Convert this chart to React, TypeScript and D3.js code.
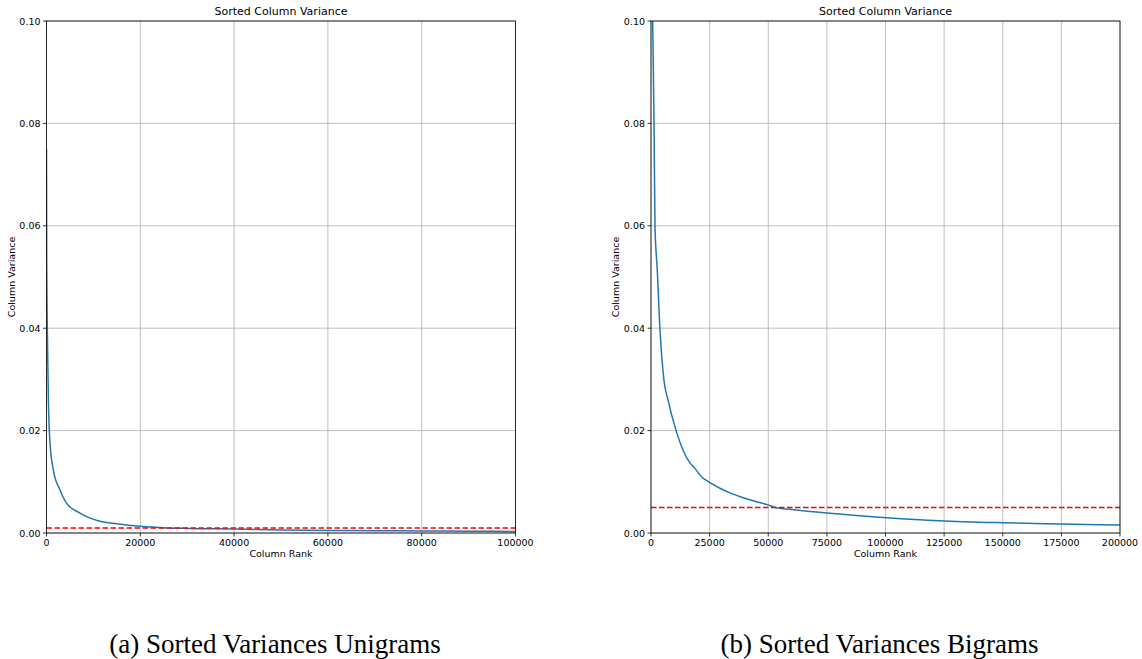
import * as d3 from "d3";

// Unigram panel: sorted column variance by rank
const uniRank = [0, 50, 170, 400, 750, 1460, 2880, 4300, 7140, 11400, 15000, 20000, 25700, 30000, 40000, 50000, 60000, 70000, 80000, 90000, 100000];
const uniVar = [0.075, 0.052, 0.04, 0.026, 0.0176, 0.0123, 0.0084, 0.0058, 0.0039, 0.0023, 0.0018, 0.0013, 0.001, 0.0009, 0.0008, 0.0006, 0.0005, 0.00045, 0.0004, 0.00035, 0.0003];
const uniThreshold = 0.001;

// Bigram panel
const biRank = [0, 700, 1300, 1700, 2300, 2500, 3800, 5500, 7250, 10700, 16600, 18000, 22000, 25000, 30000, 35000, 40000, 45000, 50000, 53000, 60000, 75000, 100500, 123000, 150000, 175000, 200000];
const biVar = [0.12, 0.1, 0.08, 0.06, 0.054, 0.0527, 0.04, 0.0299, 0.026, 0.02, 0.0137, 0.013, 0.0108, 0.0099, 0.0086, 0.0076, 0.0068, 0.0061, 0.0055, 0.005, 0.0046, 0.0039, 0.003, 0.0024, 0.002, 0.00176, 0.00156];
const biThreshold = 0.005;

const yTicks = [0, 0.02, 0.04, 0.06, 0.08, 0.1];
const uniXTicks = [0, 20000, 40000, 60000, 80000, 100000];
const biXTicks = [0, 25000, 50000, 75000, 100000, 125000, 150000, 175000, 200000];

const FONT = "DejaVu Sans, sans-serif";

interface PanelProps {
  left: number;
  rank: number[];
  variance: number[];
  threshold: number;
  xMax: number;
  xTicks: number[];
  caption: string;
}

function Panel({ left, rank, variance, threshold, xMax, xTicks, caption }: PanelProps) {
  const top = 21;
  const bottom = 533;
  const w = 469;
  const x = d3.scaleLinear().domain([0, xMax]).range([left, left + w]);
  const y = d3.scaleLinear().domain([0, 0.1]).range([bottom, top]);
  const pts: [number, number][] = rank.map((r, i) => [r, variance[i]]);
  const line = d3
    .line<[number, number]>()
    .x((d) => x(d[0]))
    .y((d) => y(d[1]))
    .curve(d3.curveMonotoneX);
  const clipId = `clip-${left}`;
  return (
    <g>
      <defs>
        <clipPath id={clipId}>
          <rect x={left} y={top} width={w} height={bottom - top} />
        </clipPath>
      </defs>
      {/* grid */}
      {xTicks.map((t) => (
        <line key={`gx${t}`} x1={x(t)} x2={x(t)} y1={top} y2={bottom} stroke="#b0b0b0" strokeWidth={0.8} />
      ))}
      {yTicks.map((t) => (
        <line key={`gy${t}`} x1={left} x2={left + w} y1={y(t)} y2={y(t)} stroke="#b0b0b0" strokeWidth={0.8} />
      ))}
      <g clipPath={`url(#${clipId})`}>
        <path d={line(pts) ?? ""} fill="none" stroke="#1f77b4" strokeWidth={1.5} />
        <line
          x1={left}
          x2={left + w}
          y1={y(threshold)}
          y2={y(threshold)}
          stroke="#ff0000"
          strokeWidth={1.5}
          strokeDasharray="5.5,2.5"
        />
      </g>
      {/* spines */}
      <rect x={left} y={top} width={w} height={bottom - top} fill="none" stroke="#000" strokeWidth={0.8} />
      {/* ticks */}
      {xTicks.map((t) => (
        <g key={`tx${t}`}>
          <line x1={x(t)} x2={x(t)} y1={bottom} y2={bottom + 3.5} stroke="#000" strokeWidth={0.8} />
          <text x={x(t)} y={bottom + 13} textAnchor="middle" fontSize={9.5} fontFamily={FONT}>
            {t}
          </text>
        </g>
      ))}
      {yTicks.map((t) => (
        <g key={`ty${t}`}>
          <line x1={left - 3.5} x2={left} y1={y(t)} y2={y(t)} stroke="#000" strokeWidth={0.8} />
          <text x={left - 6} y={y(t) + 3.5} textAnchor="end" fontSize={9.5} fontFamily={FONT}>
            {t.toFixed(2)}
          </text>
        </g>
      ))}
      <text x={left + w / 2} y={15} textAnchor="middle" fontSize={11} fontFamily={FONT}>
        Sorted Column Variance
      </text>
      <text x={left + w / 2} y={557} textAnchor="middle" fontSize={9.5} fontFamily={FONT}>
        Column Rank
      </text>
      <text
        transform={`translate(${left - 32},${(top + bottom) / 2}) rotate(-90)`}
        textAnchor="middle"
        fontSize={9.5}
        fontFamily={FONT}
      >
        Column Variance
      </text>
      <text
        x={left + w / 2 - 6}
        y={653}
        textAnchor="middle"
        fontSize={27}
        fontFamily="Liberation Serif, serif"
      >
        {caption}
      </text>
    </g>
  );
}

export default function App() {
  return (
    <svg
      width={1142}
      height={659}
      style={{ position: "absolute", left: 0, top: 0, background: "#fff" }}
    >
      <rect width={1142} height={659} fill="#fff" />
      <Panel
        left={46.5}
        rank={uniRank}
        variance={uniVar}
        threshold={uniThreshold}
        xMax={100000}
        xTicks={uniXTicks}
        caption="(a) Sorted Variances Unigrams"
      />
      <Panel
        left={651}
        rank={biRank}
        variance={biVar}
        threshold={biThreshold}
        xMax={200000}
        xTicks={biXTicks}
        caption="(b) Sorted Variances Bigrams"
      />
    </svg>
  );
}
